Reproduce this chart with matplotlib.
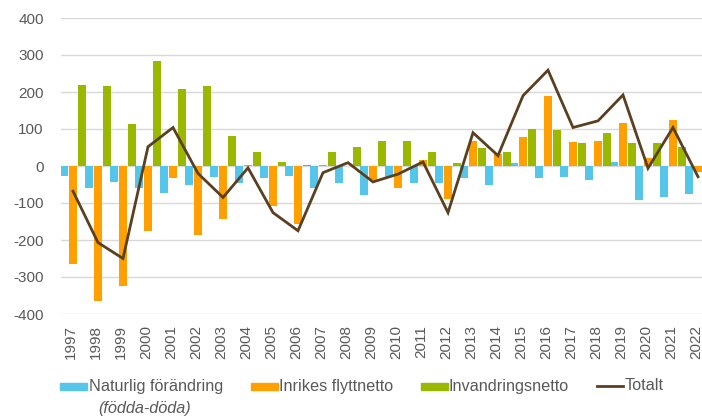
import matplotlib
matplotlib.use("Agg")
import matplotlib.pyplot as plt
from matplotlib.patches import Rectangle
from matplotlib.lines import Line2D
from matplotlib.transforms import ScaledTranslation
import numpy as np

plt.rcParams['font.family'] = ['Liberation Sans', 'DejaVu Sans']

years = [str(y) for y in range(1997, 2023)]
naturlig = [-26, -60, -42, -60, -74, -50, -29, -47, -33, -26, -60, -45, -78, -29,
            -47, -47, -32, -51, 9, -32, -29, -38, 12, -92, -83, -77]
inrikes = [-266, -365, -323, -177, -32, -186, -142, 3, -108, -157, 2, 0, -38, -60,
           16, -90, 68, 32, 78, 189, 66, 68, 115, 22, 124, -15]
invandring = [220, 216, 113, 284, 208, 215, 82, 38, 10, 3, 39, 51, 67, 68,
              39, 7, 50, 39, 100, 98, 63, 88, 61, 61, 52, 61]
totalt = [-68, -207, -250, 52, 104, -20, -85, -5, -126, -175, -18, 9, -43, -22,
          11, -126, 90, 28, 190, 259, 104, 122, 192, -6, 104, -29]
yticks = [-400, -300, -200, -100, 0, 100, 200, 300, 400]
legend_labels = ["Naturlig förändring", "Inrikes flyttnetto", "Invandringsnetto", "Totalt"]
legend_sub = "(födda-döda)"

c_blue = "#55c6ea"
c_orange = "#ffa000"
c_green = "#9bb800"
c_line = "#5a4020"
txt = "#595959"

W, H = 702, 418
fig = plt.figure(figsize=(W / 100, H / 100), dpi=100)
ax_left, ax_right = 60.5, 710.5
ax_top, ax_bot = 18, 314
ax = fig.add_axes([ax_left / W, (H - ax_bot) / H, (ax_right - ax_left) / W, (ax_bot - ax_top) / H])

x = np.arange(len(years))
bw = 0.29
off = 0.36
ax.bar(x - off, naturlig, bw, color=c_blue, zorder=2)
ax.bar(x, inrikes, bw, color=c_orange, zorder=2)
ax.bar(x + off, invandring, bw, color=c_green, zorder=2)
ax.plot(x, totalt, color=c_line, lw=2.0, zorder=3, solid_joinstyle='miter')

ax.set_xlim(-0.5, len(years) - 0.5)
ax.set_ylim(-400, 400)
ax.set_yticks(yticks)
ax.set_yticklabels([str(v) for v in yticks])
ax.set_xticks(x)
ax.set_xticklabels(years, rotation=90, va='top', ha='center')
ax.tick_params(axis='both', length=0, labelsize=11, colors=txt)
ax.tick_params(axis='x', pad=8)
ax.tick_params(axis='y', pad=12)
shift = ScaledTranslation(-2 / 100, 0, fig.dpi_scale_trans)
for lab in ax.get_xticklabels():
    lab.set_transform(lab.get_transform() + shift)
ax.yaxis.grid(True, color="#d9d9d9", lw=1.0, zorder=0)
ax.set_axisbelow(True)
for s in ax.spines.values():
    s.set_visible(False)

# Legend (manual, figure pixel coords)
def fx(px):
    return px / W

def fy(py):
    return (H - py) / H

ly = 386
lfs = 11.7
patches = [(60, c_blue), (251, c_orange), (421, c_green)]
text_x = [89, 279, 448]
for (px, col), tx, lab in zip(patches, text_x, legend_labels[:3]):
    fig.add_artist(Rectangle((fx(px), fy(ly + 3.5)), 27 / W, 7 / H, color=col,
                             transform=fig.transFigure))
    fig.text(fx(tx), fy(ly), lab, fontsize=lfs, color=txt, va='center', ha='left')
fig.add_artist(Line2D([fx(597), fx(623)], [fy(ly), fy(ly)], color=c_line, lw=2.0,
                      transform=fig.transFigure))
fig.text(fx(625), fy(ly), legend_labels[3], fontsize=lfs, color=txt, va='center', ha='left')
fig.text(fx(98), fy(408), legend_sub, fontsize=lfs, color=txt, va='center', ha='left',
         style='italic')

fig.savefig("out.png", dpi=100)
